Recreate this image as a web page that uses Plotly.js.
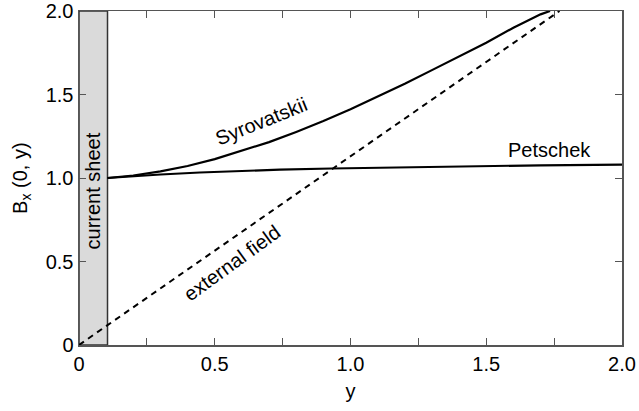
<!DOCTYPE html>
<html>
<head>
<meta charset="utf-8">
<script src="https://cdn.plot.ly/plotly-3.0.1.min.js"></script>
<style>html,body{margin:0;padding:0;background:#fff;}#chart{width:639px;height:411px;}</style>
</head>
<body>
<div id="chart"></div>
<script>
// Current sheet extent
const sheetX = [0, 0.105];
const sheetY = [0, 2.0];

// External field (dashed)
const extX = [0, 1.77];
const extY = [0, 2.0];

// Syrovatskii solution
const syroX = [0.105, 0.2, 0.3, 0.4, 0.5, 0.6, 0.7, 0.8, 0.9, 1.0, 1.1, 1.2, 1.3, 1.4, 1.5, 1.6, 1.7, 1.735];
const syroY = [1.0, 1.015, 1.04, 1.072, 1.113, 1.162, 1.215, 1.276, 1.341, 1.411, 1.486, 1.564, 1.646, 1.73, 1.81, 1.90, 1.98, 2.0];

// Petschek solution
const petX = [0.105, 0.2, 0.3, 0.445, 0.6, 0.74, 0.93, 1.2, 1.5, 1.7, 2.0];
const petY = [1.0, 1.012, 1.021, 1.033, 1.043, 1.05, 1.057, 1.065, 1.072, 1.076, 1.08];

// Axis ticks
const xTickVals = [0, 0.5, 1.0, 1.5, 2.0];
const xTickText = ['0', '0.5', '1.0', '1.5', '2.0'];
const xMinorVals = [0.25, 0.75, 1.25, 1.75];
const yTickVals = [0, 0.5, 1.0, 1.5, 2.0];
const yTickText = ['0', '0.5', '1.0', '1.5', '2.0'];

const FONT = 'Liberation Sans, Arial, Helvetica, sans-serif';
const fs = 20;

const traces = [
  {x: extX, y: extY, mode: 'lines', line: {color: '#000', width: 2, dash: '6px,5px'}, hoverinfo: 'skip'},
  {x: syroX, y: syroY, mode: 'lines', line: {color: '#000', width: 2.2}, hoverinfo: 'skip'},
  {x: petX, y: petY, mode: 'lines', line: {color: '#000', width: 2.2}, hoverinfo: 'skip'}
];

const layout = {
  width: 639, height: 411,
  margin: {l: 79, r: 17, t: 11, b: 66},
  paper_bgcolor: '#fff', plot_bgcolor: '#fff',
  showlegend: false,
  font: {family: FONT, size: fs, color: '#000'},
  xaxis: {
    range: [0, 2.0], tickvals: xTickVals, ticktext: xTickText,
    ticks: 'inside', ticklen: 7, tickcolor: '#555', tickwidth: 1,
    minor: {tickvals: xMinorVals, ticks: 'inside', ticklen: 7, tickcolor: '#555', tickwidth: 1, showgrid: false},
    showline: true, linecolor: '#555', linewidth: 1.5, mirror: 'ticks',
    showgrid: false, zeroline: false, tickfont: {family: FONT, size: fs, color: '#000'},
    ticklabeloverflow: 'allow',
    title: {text: 'y', font: {family: FONT, size: fs, color: '#000'}, standoff: 10}
  },
  yaxis: {
    range: [0, 2.0], tickvals: yTickVals, ticktext: yTickText,
    ticks: 'inside', ticklen: 7, tickcolor: '#555', tickwidth: 1,
    showline: true, linecolor: '#555', linewidth: 1.5, mirror: 'ticks',
    showgrid: false, zeroline: false, tickfont: {family: FONT, size: fs, color: '#000'},
    ticklabeloverflow: 'allow'
  },
  shapes: [
    {type: 'rect', xref: 'x', yref: 'y', x0: sheetX[0], x1: sheetX[1], y0: sheetY[0], y1: sheetY[1],
     fillcolor: '#dadada', line: {color: '#333', width: 1.5}, layer: 'below'}
  ],
  annotations: [
    {xref: 'paper', yref: 'paper', x: -0.107, y: 0.50, text: 'B<sub>x</sub> (0, y)', textangle: -90,
     showarrow: false, xanchor: 'center', yanchor: 'middle', font: {family: FONT, size: fs, color: '#000'}},
    {xref: 'x', yref: 'y', x: 0.052, y: 0.92, text: 'current sheet', textangle: -90,
     showarrow: false, xanchor: 'center', yanchor: 'middle', font: {family: FONT, size: fs, color: '#000'}},
    {xref: 'x', yref: 'y', x: 0.674, y: 1.34, text: 'Syrovatskii', textangle: -22,
     showarrow: false, xanchor: 'center', yanchor: 'middle', font: {family: FONT, size: fs, color: '#000'}},
    {xref: 'x', yref: 'y', x: 0.563, y: 0.494, text: 'external field', textangle: -36,
     showarrow: false, xanchor: 'center', yanchor: 'middle', font: {family: FONT, size: fs, color: '#000'}},
    {xref: 'x', yref: 'y', x: 1.733, y: 1.167, text: 'Petschek', textangle: 0,
     showarrow: false, xanchor: 'center', yanchor: 'middle', font: {family: FONT, size: fs, color: '#000'}}
  ]
};

Plotly.newPlot('chart', traces, layout, {staticPlot: true, displayModeBar: false});
</script>
</body>
</html>
